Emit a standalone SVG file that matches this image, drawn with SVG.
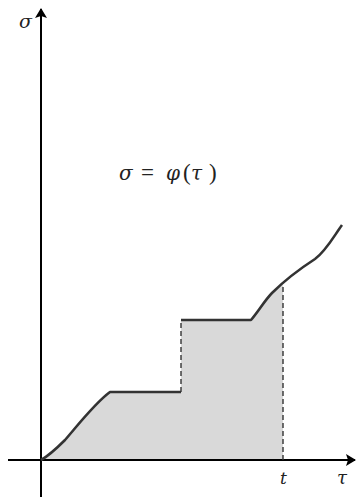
<svg xmlns="http://www.w3.org/2000/svg" width="358" height="499" viewBox="0 0 358 499">
<style>
.ax{stroke:#000;stroke-width:2;fill:none}
.cv{stroke:#333;stroke-width:2.6;fill:none;stroke-linejoin:round}
.ds{stroke:#333;stroke-width:1.4;stroke-dasharray:5,3;fill:none}
.lb{font-family:"DejaVu Serif","Liberation Serif",serif;font-style:italic;fill:#222}
.up{font-family:"Liberation Serif","DejaVu Serif",serif;font-style:normal;font-size:23px}
</style>
<defs>
<marker id="ah" markerWidth="10" markerHeight="12" refX="9" refY="6" orient="auto" markerUnits="userSpaceOnUse">
<path d="M0,0 L10,6 L0,12 L2,6 Z" fill="#000"/>
</marker>
</defs>
<rect width="358" height="499" fill="#fff"/>
<g id="area">
<path d="M41,460 C50,455 58,447 65,440 C78,425 95,403 110,392 L181,392 L181,320 L251,320 C258,312 265,300 272,293 C276,289 280,287 283,285 L283,460 Z" fill="#d9d9d9"/>
</g>
<g id="axes">
<line class="ax" x1="8" y1="460" x2="355" y2="460" marker-end="url(#ah)"/>
<line class="ax" x1="41" y1="497" x2="41" y2="9" marker-end="url(#ah)"/>
</g>
<g id="connectors">
<path class="cv" d="M41,460 C50,455 58,447 65,440 C78,425 95,403 110,392 L181,392"/>
<path class="cv" d="M181,320 L251,320 C258,312 265,300 272,293 C285,280 298,270 315,259 C326,251 334,236 342,225"/>
<line class="ds" x1="181" y1="392" x2="181" y2="320"/>
<line class="ds" x1="283" y1="460" x2="283" y2="285"/>
</g>
<g id="labels">
<text class="lb" x="19" y="28" font-size="19">σ</text>
<text class="lb" font-size="20" y="180"><tspan x="119">σ</tspan><tspan class="up" x="141">=</tspan><tspan x="166">φ</tspan><tspan class="up" x="183">(</tspan><tspan x="191">τ</tspan><tspan class="up" x="209">)</tspan></text>
<text class="lb" x="280" y="484" font-size="17">t</text>
<text class="lb" x="337" y="484" font-size="18">τ</text>
</g>
</svg>
